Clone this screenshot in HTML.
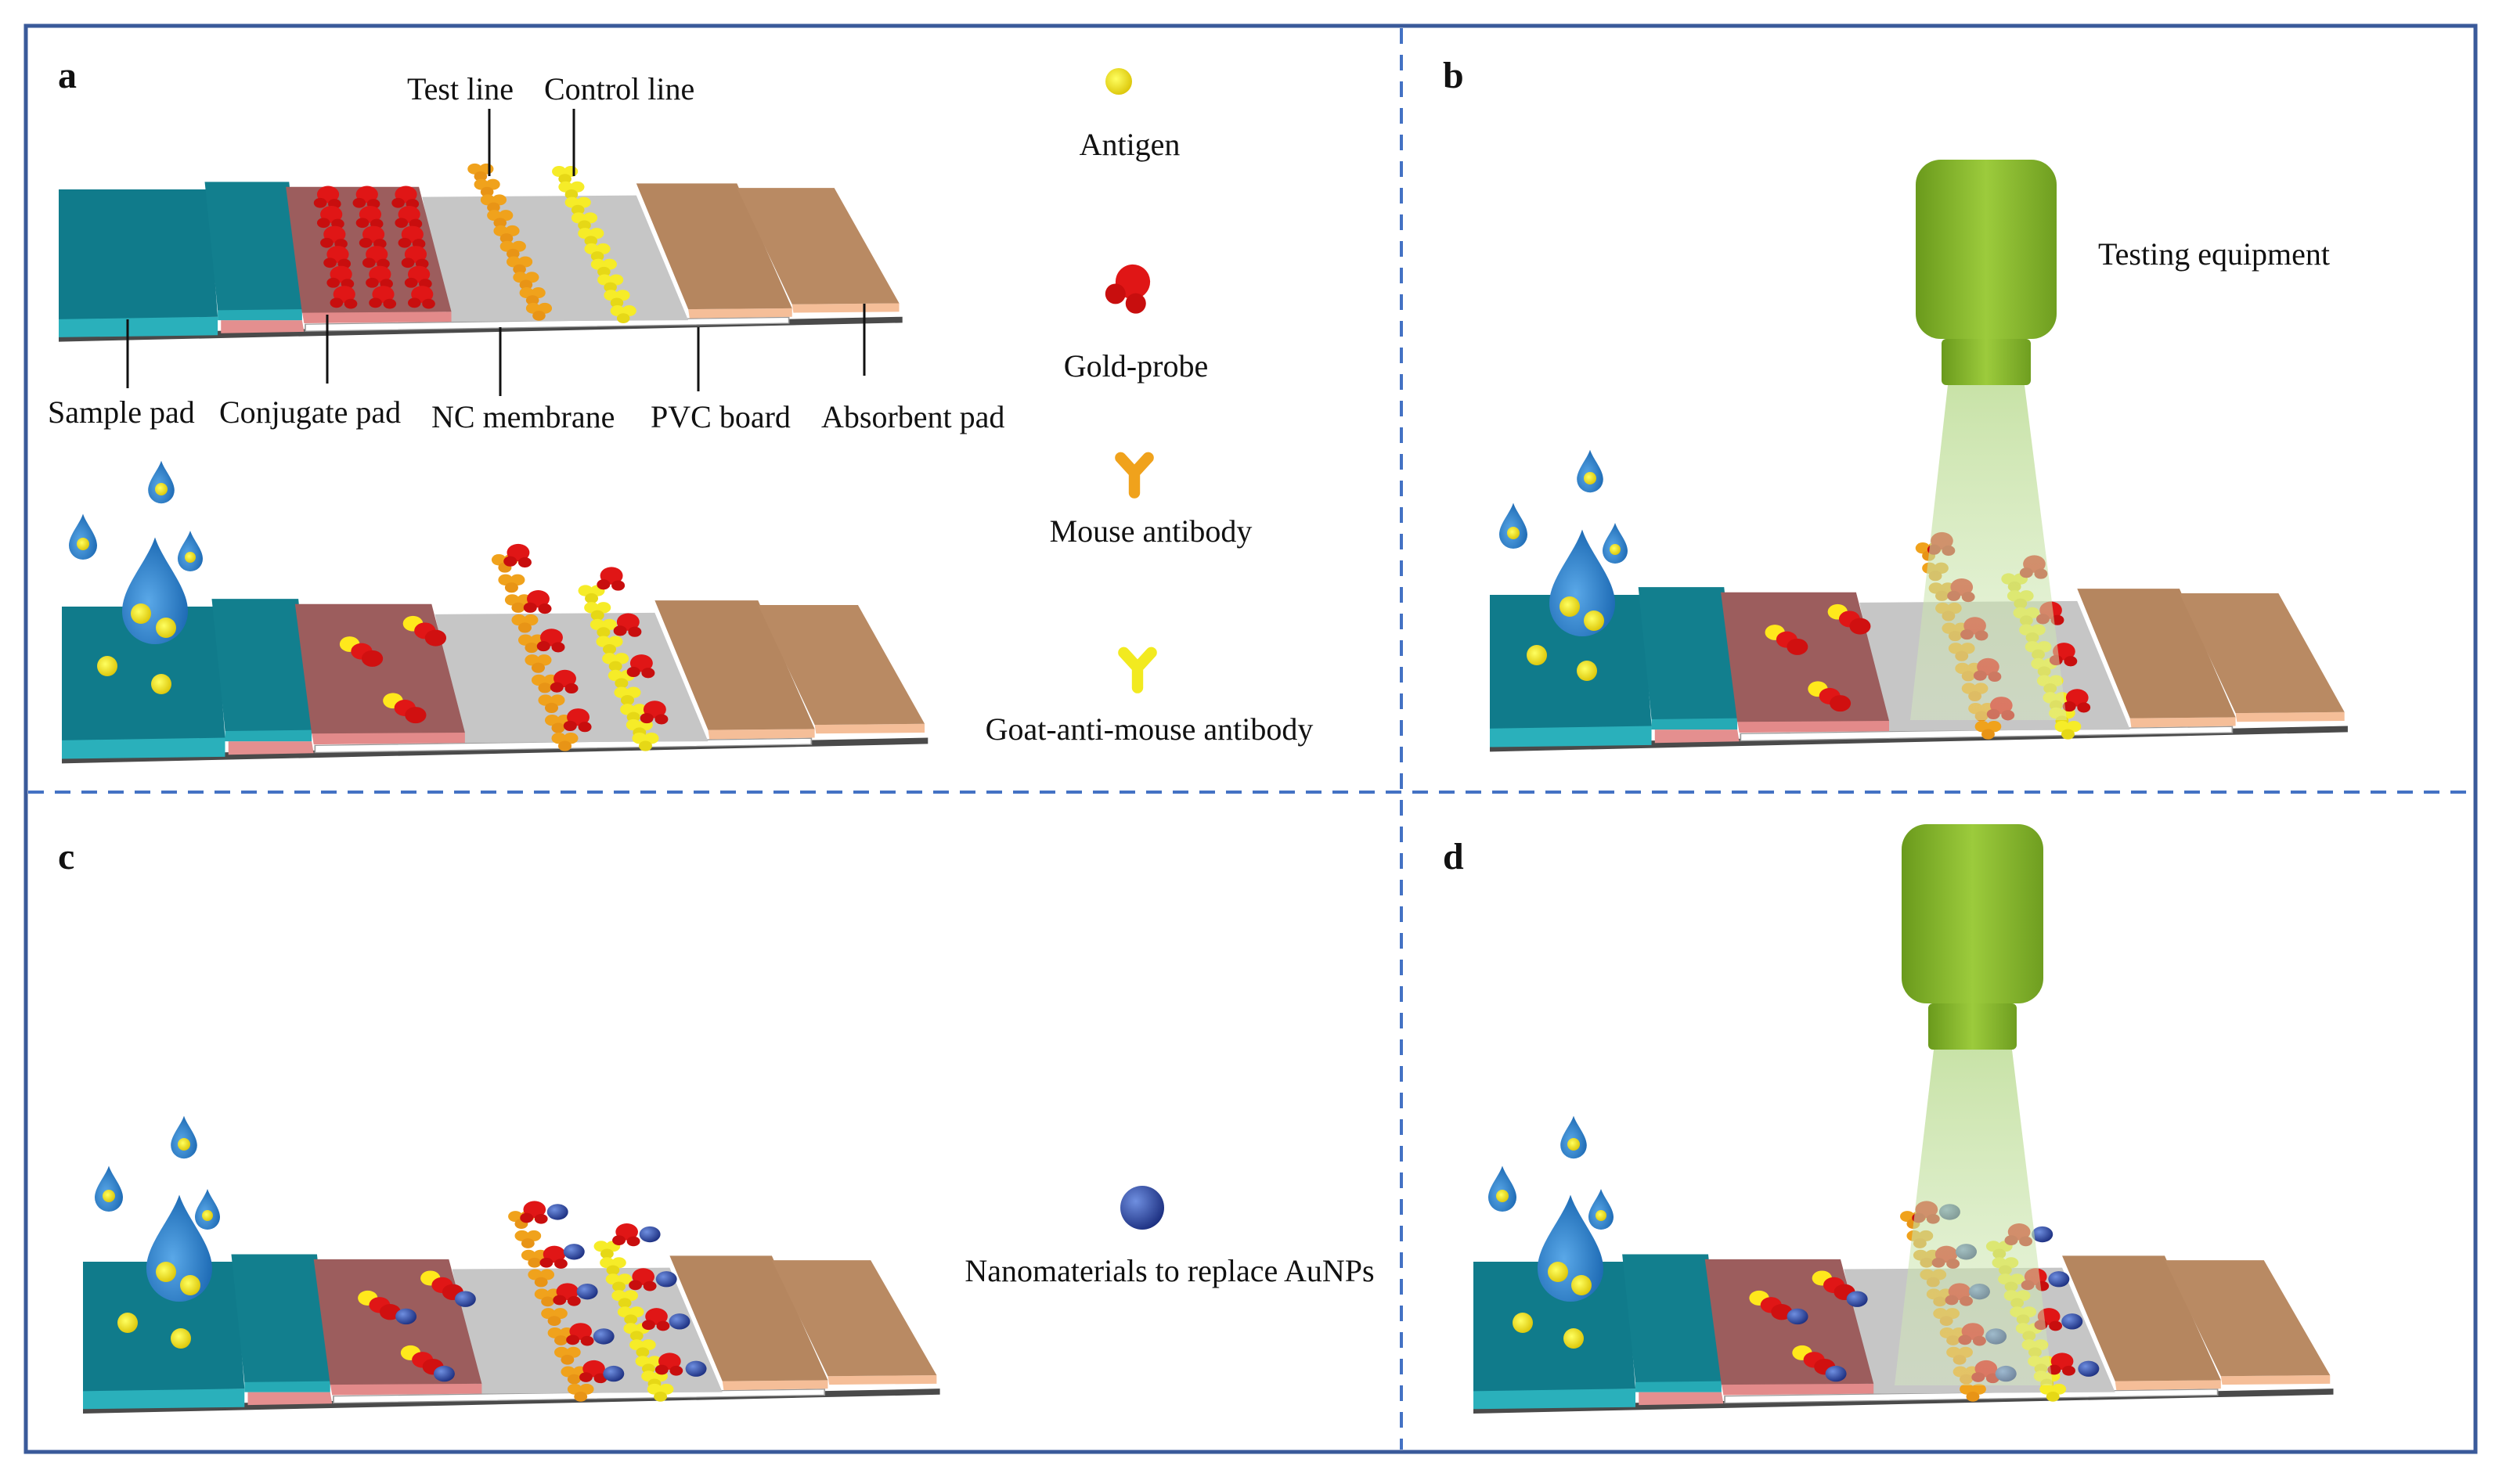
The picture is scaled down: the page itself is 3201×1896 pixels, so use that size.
<!DOCTYPE html>
<html><head><meta charset="utf-8"><style>
html,body{margin:0;padding:0;background:#fff;}
svg{display:block;}
text{font-family:"Liberation Serif",serif;fill:#111;}
</style></head><body>
<svg width="3201" height="1896" viewBox="0 0 3201 1896" xmlns="http://www.w3.org/2000/svg">
<defs>
<radialGradient id="dropg" cx="0.4" cy="0.6" r="0.7"><stop offset="0" stop-color="#5aa8e8"/><stop offset="1" stop-color="#1562ad"/></radialGradient>
<radialGradient id="blueg" cx="0.35" cy="0.35" r="0.7"><stop offset="0" stop-color="#6f8fe0"/><stop offset="1" stop-color="#1c2f80"/></radialGradient>
<radialGradient id="yelg" cx="0.4" cy="0.4" r="0.7"><stop offset="0" stop-color="#ffff60"/><stop offset="1" stop-color="#d8c000"/></radialGradient>
<linearGradient id="eqg" x1="0" x2="1" y1="0" y2="0"><stop offset="0" stop-color="#6a9a1c"/><stop offset="0.5" stop-color="#9ccb3c"/><stop offset="1" stop-color="#6f9e20"/></linearGradient>
<linearGradient id="beamg" x1="0" x2="0" y1="0" y2="1"><stop offset="0" stop-color="#b6d98a" stop-opacity="0.75"/><stop offset="1" stop-color="#d6ebc0" stop-opacity="0.45"/></linearGradient>
<path id="drop" d="M0,-70 C10,-40 40,-10 40,20 A40,40 0 0 1 -40,20 C-40,-10 -10,-40 0,-70Z" fill="url(#dropg)"/>
<g id="yo"><circle cx="-9" cy="-6" r="11" fill="#f0a21c"/><circle cx="9" cy="-6" r="11" fill="#f0a21c"/><circle cx="0" cy="9" r="10" fill="#e89416"/></g>
<g id="yy"><circle cx="-9" cy="-6" r="11" fill="#f6ec28"/><circle cx="9" cy="-6" r="11" fill="#f6ec28"/><circle cx="0" cy="9" r="10" fill="#e6d816"/></g>
<g id="gp"><circle cx="0" cy="0" r="17" fill="#e01616"/><circle cx="-12" cy="17" r="10" fill="#c80e0e"/><circle cx="10" cy="19" r="10" fill="#c80e0e"/></g>
<g id="pair"><circle cx="-18" cy="-12" r="15" fill="#ffe81c"/><circle cx="0" cy="2" r="16" fill="#e01616"/><circle cx="16" cy="16" r="16" fill="#d01010"/></g>
<circle id="bs" r="16" fill="url(#blueg)"/>
<g id="strip">
 <polygon points="0,290 1300,255 1300,267 0,305" fill="#4a4a4a"/>
 <polygon points="380,270 1125,256 1125,268 380,284" fill="#fff" stroke="#999" stroke-width="2"/>
 <polygon points="0,255 245,255 245,292 0,296" fill="#2ab0bb"/>
 <polygon points="0,0 230,0 245,255 0,260" fill="#107b8b"/>
 <polygon points="250,262 375,262 378,285 250,288" fill="#e48f8f"/>
 <polygon points="245,240 375,238 375,262 245,262" fill="#26aab5"/>
 <polygon points="225,-15 355,-15 375,240 245,242" fill="#127f8e"/>
 <polygon points="560,15 890,12 970,262 600,265" fill="#c6c6c6"/>
 <polygon points="375,245 605,245 605,265 378,268" fill="#e38a8a"/>
 <polygon points="350,-5 555,-5 605,245 375,247" fill="#9c5d5d"/>
 <polygon points="970,240 1130,238 1130,255 972,258" fill="#f5be98"/>
 <polygon points="890,-12 1045,-12 1130,238 970,240" fill="#b5865f"/>
 <polygon points="1130,230 1295,228 1295,245 1132,247" fill="#f5be98"/>
 <polygon points="1045,-3 1195,-3 1295,228 1130,230" fill="#b98a63"/>
</g>
<g id="linesTop">
 <use href="#yo" x="650" y="-35"/><use href="#yo" x="660" y="-4"/><use href="#yo" x="670" y="27"/><use href="#yo" x="680" y="58"/><use href="#yo" x="690" y="89"/><use href="#yo" x="700" y="120"/><use href="#yo" x="710" y="151"/><use href="#yo" x="720" y="182"/><use href="#yo" x="730" y="213"/><use href="#yo" x="740" y="244"/>
 <use href="#yy" x="780" y="-30"/><use href="#yy" x="790" y="1"/><use href="#yy" x="800" y="32"/><use href="#yy" x="810" y="63"/><use href="#yy" x="820" y="94"/><use href="#yy" x="830" y="125"/><use href="#yy" x="840" y="156"/><use href="#yy" x="850" y="187"/><use href="#yy" x="860" y="218"/><use href="#yy" x="870" y="249"/>
</g>
<g id="linesBot">
 <use href="#yo" x="665" y="-85"/><use href="#yo" x="675" y="-46"/><use href="#yo" x="685" y="-7"/><use href="#yo" x="695" y="32"/><use href="#yo" x="705" y="71"/><use href="#yo" x="715" y="110"/><use href="#yo" x="725" y="149"/><use href="#yo" x="735" y="188"/><use href="#yo" x="745" y="227"/><use href="#yo" x="755" y="262"/>
 <use href="#yy" x="795" y="-25"/><use href="#yy" x="804" y="8"/><use href="#yy" x="813" y="41"/><use href="#yy" x="822" y="74"/><use href="#yy" x="831" y="107"/><use href="#yy" x="840" y="140"/><use href="#yy" x="849" y="173"/><use href="#yy" x="858" y="206"/><use href="#yy" x="867" y="236"/><use href="#yy" x="876" y="262"/>
 <use href="#pair" x="450" y="85"/><use href="#pair" x="545" y="45"/><use href="#pair" x="515" y="195"/>
</g>
<g id="probesA">
 <use href="#gp" x="685" y="-105"/><use href="#gp" x="715" y="-15"/><use href="#gp" x="735" y="60"/><use href="#gp" x="755" y="140"/><use href="#gp" x="775" y="215"/>
 <use href="#gp" x="825" y="-60"/><use href="#gp" x="850" y="30"/><use href="#gp" x="870" y="110"/><use href="#gp" x="890" y="200"/>
</g>
<g id="blueC">
 <use href="#bs" x="720" y="-100"/><use href="#bs" x="745" y="-20"/><use href="#bs" x="765" y="60"/><use href="#bs" x="790" y="150"/><use href="#bs" x="805" y="225"/>
 <use href="#bs" x="860" y="-55"/><use href="#bs" x="885" y="35"/><use href="#bs" x="905" y="120"/><use href="#bs" x="930" y="215"/>
 <use href="#bs" x="490" y="110"/><use href="#bs" x="580" y="75"/><use href="#bs" x="548" y="225"/>
</g>
</defs>

<rect x="33" y="33" width="3129" height="1822" fill="none" stroke="#3a5a9a" stroke-width="5"/>
<line x1="1790" y1="36" x2="1790" y2="1852" stroke="#4472c4" stroke-width="4" stroke-dasharray="20,14"/>
<line x1="36" y1="1012" x2="3160" y2="1012" stroke="#4472c4" stroke-width="4" stroke-dasharray="20,14"/>

<text x="74" y="112" font-size="48" font-weight="bold">a</text>
<text x="1843" y="112" font-size="48" font-weight="bold">b</text>
<text x="74" y="1110" font-size="48" font-weight="bold">c</text>
<text x="1843" y="1110" font-size="48" font-weight="bold">d</text>

<g transform="translate(75,242) scale(0.829,0.638)">
 <use href="#strip"/>
 <g>
  <use href="#gp" x="415" y="10"/><use href="#gp" x="420" y="50"/><use href="#gp" x="425" y="90"/><use href="#gp" x="430" y="130"/><use href="#gp" x="435" y="170"/><use href="#gp" x="440" y="210"/>
  <use href="#gp" x="475" y="10"/><use href="#gp" x="480" y="50"/><use href="#gp" x="485" y="90"/><use href="#gp" x="490" y="130"/><use href="#gp" x="495" y="170"/><use href="#gp" x="500" y="210"/>
  <use href="#gp" x="535" y="10"/><use href="#gp" x="540" y="50"/><use href="#gp" x="545" y="90"/><use href="#gp" x="550" y="130"/><use href="#gp" x="555" y="170"/><use href="#gp" x="560" y="210"/>
 </g>
 <use href="#linesTop"/>
</g>
<g stroke="#111" stroke-width="3">
 <line x1="625" y1="139" x2="625" y2="225"/><line x1="733" y1="139" x2="733" y2="225"/>
 <line x1="163" y1="408" x2="163" y2="496"/><line x1="418" y1="402" x2="418" y2="490"/>
 <line x1="639" y1="418" x2="639" y2="506"/><line x1="892" y1="418" x2="892" y2="500"/>
 <line x1="1104" y1="388" x2="1104" y2="480"/>
</g>
<g font-size="40">
 <text x="520" y="127">Test line</text>
 <text x="695" y="127">Control line</text>
 <text x="61" y="540">Sample pad</text>
 <text x="280" y="540">Conjugate pad</text>
 <text x="551" y="546">NC membrane</text>
 <text x="831" y="546">PVC board</text>
 <text x="1049" y="546">Absorbent pad</text>
</g>

<g transform="translate(79,775) scale(0.851,0.657)">
 <use href="#strip"/><use href="#linesBot"/><use href="#probesA"/>
</g>
<use href="#drop" transform="translate(106,688) scale(0.45)"/>
<use href="#drop" transform="translate(206,618) scale(0.42)"/>
<use href="#drop" transform="translate(243,706) scale(0.4)"/>
<use href="#drop" transform="translate(198,760) scale(1.05)"/>
<g fill="url(#yelg)"><circle cx="106" cy="695" r="8"/><circle cx="206" cy="625" r="8"/><circle cx="243" cy="712" r="7"/>
<circle cx="180" cy="784" r="13"/><circle cx="212" cy="802" r="13"/><circle cx="137" cy="851" r="13"/><circle cx="206" cy="874" r="13"/></g>

<circle cx="1429" cy="104" r="17" fill="url(#yelg)"/>
<text x="1443" y="198" font-size="40" text-anchor="middle">Antigen</text>
<use href="#gp" transform="translate(1447,360) rotate(20) scale(1.3)"/>
<text x="1451" y="481" font-size="40" text-anchor="middle">Gold-probe</text>
<g transform="translate(1449,604) scale(1.6)"><path d="M0,0 L0,16 M0,0 L-11,-12 M0,0 L11,-12" stroke="#f0a21c" stroke-width="9" stroke-linecap="round" fill="none"/></g>
<text x="1470" y="692" font-size="40" text-anchor="middle">Mouse antibody</text>
<g transform="translate(1453,853) scale(1.6)"><path d="M0,0 L0,16 M0,0 L-11,-12 M0,0 L11,-12" stroke="#f2ea20" stroke-width="9" stroke-linecap="round" fill="none"/></g>
<text x="1468" y="945" font-size="40" text-anchor="middle">Goat-anti-mouse antibody</text>
<circle cx="1459" cy="1543" r="28" fill="url(#blueg)"/>
<text x="1494" y="1637" font-size="40" text-anchor="middle">Nanomaterials to replace AuNPs</text>
<text x="2680" y="338" font-size="40">Testing equipment</text>

<g transform="translate(1903,760) scale(0.843,0.657)">
 <use href="#strip"/><use href="#linesBot"/><use href="#probesA"/>
</g>
<rect x="2447" y="204" width="180" height="229" rx="32" fill="url(#eqg)"/>
<rect x="2480" y="433" width="114" height="59" rx="6" fill="url(#eqg)"/>
<polygon points="2488,492 2586,492 2640,920 2440,920" fill="url(#beamg)"/>
<use href="#drop" transform="translate(1933,674) scale(0.45)"/>
<use href="#drop" transform="translate(2031,604) scale(0.42)"/>
<use href="#drop" transform="translate(2063,696) scale(0.4)"/>
<use href="#drop" transform="translate(2021,750) scale(1.05)"/>
<g fill="url(#yelg)"><circle cx="1933" cy="681" r="8"/><circle cx="2031" cy="611" r="8"/><circle cx="2063" cy="702" r="7"/>
<circle cx="2005" cy="775" r="13"/><circle cx="2036" cy="793" r="13"/><circle cx="1963" cy="837" r="13"/><circle cx="2027" cy="857" r="13"/></g>

<g transform="translate(106,1612) scale(0.842,0.636)">
 <use href="#strip"/><use href="#linesBot"/><use href="#probesA"/><use href="#blueC"/>
</g>
<use href="#drop" transform="translate(139,1521) scale(0.45)"/>
<use href="#drop" transform="translate(235,1455) scale(0.42)"/>
<use href="#drop" transform="translate(265,1547) scale(0.4)"/>
<use href="#drop" transform="translate(229,1600) scale(1.05)"/>
<g fill="url(#yelg)"><circle cx="139" cy="1528" r="8"/><circle cx="235" cy="1462" r="8"/><circle cx="265" cy="1553" r="7"/>
<circle cx="212" cy="1625" r="13"/><circle cx="243" cy="1642" r="13"/><circle cx="163" cy="1690" r="13"/><circle cx="231" cy="1710" r="13"/></g>

<g transform="translate(1882,1612) scale(0.845,0.636)">
 <use href="#strip"/><use href="#linesBot"/><use href="#probesA"/><use href="#blueC"/>
</g>
<rect x="2429" y="1053" width="181" height="229" rx="32" fill="url(#eqg)"/>
<rect x="2463" y="1282" width="113" height="59" rx="6" fill="url(#eqg)"/>
<polygon points="2470,1341 2570,1341 2622,1770 2420,1770" fill="url(#beamg)"/>
<use href="#drop" transform="translate(1919,1521) scale(0.45)"/>
<use href="#drop" transform="translate(2010,1455) scale(0.42)"/>
<use href="#drop" transform="translate(2045,1547) scale(0.4)"/>
<use href="#drop" transform="translate(2006,1600) scale(1.05)"/>
<g fill="url(#yelg)"><circle cx="1919" cy="1528" r="8"/><circle cx="2010" cy="1462" r="8"/><circle cx="2045" cy="1553" r="7"/>
<circle cx="1990" cy="1625" r="13"/><circle cx="2020" cy="1642" r="13"/><circle cx="1945" cy="1690" r="13"/><circle cx="2010" cy="1710" r="13"/></g>
</svg>
</body></html>
